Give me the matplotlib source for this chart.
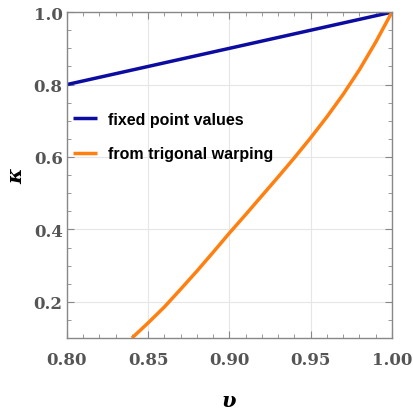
import matplotlib
matplotlib.use("Agg")
import matplotlib.pyplot as plt
from matplotlib.ticker import MultipleLocator

# data
v_fixed = [0.80, 1.00]
kappa_fixed = [0.80, 1.00]
v_trig = [0.84, 0.85, 0.86, 0.87, 0.88, 0.89, 0.90, 0.91, 0.92,
          0.93, 0.94, 0.95, 0.96, 0.97, 0.98, 0.99, 1.00]
kappa_trig = [0.10, 0.142, 0.186, 0.235, 0.285, 0.337, 0.39, 0.441, 0.493,
              0.545, 0.598, 0.653, 0.711, 0.773, 0.841, 0.917, 1.00]
xticks = [0.80, 0.85, 0.90, 0.95, 1.00]
yticks = [0.2, 0.4, 0.6, 0.8, 1.0]

fig = plt.figure(figsize=(4.13, 4.10), dpi=100)
ax = fig.add_axes([0.162, 0.173, 0.787, 0.795])

ax.plot(v_fixed, kappa_fixed, color="#0c0ca0", lw=2.5, label="fixed point values", solid_capstyle="butt")
ax.plot(v_trig, kappa_trig, color="#ff8010", lw=2.5, label="from trigonal warping", solid_capstyle="butt")

ax.set_xlim(0.80, 1.00)
ax.set_ylim(0.10, 1.00)
ax.set_xticks(xticks)
ax.set_yticks(yticks)
ax.set_xticklabels([f"{t:.2f}" for t in xticks])
ax.set_yticklabels([f"{t:.1f}" for t in yticks])
ax.xaxis.set_minor_locator(MultipleLocator(0.01))
ax.yaxis.set_minor_locator(MultipleLocator(0.05))
ax.tick_params(which="both", direction="in", top=True, right=True, color="#888888")
ax.tick_params(which="major", length=5, width=0.8, labelsize=12, labelcolor="#555555")
ax.tick_params(axis="x", which="major", pad=9)
ax.tick_params(axis="y", which="major", pad=3)
ax.tick_params(which="minor", length=3, width=0.6)
for lab in ax.get_xticklabels() + ax.get_yticklabels():
    lab.set_family("DejaVu Serif")
    lab.set_fontweight("bold")
ax.grid(True, which="major", color="#e6e6e6", lw=0.8)
ax.set_axisbelow(True)
for s in ax.spines.values():
    s.set_color("#888888")
    s.set_linewidth(1.0)

ax.set_xlabel("υ", fontsize=15, fontweight="bold", style="italic", family="DejaVu Serif", labelpad=16)
ax.set_ylabel("κ", fontsize=15, fontweight="bold", style="italic", family="DejaVu Serif", labelpad=5, rotation=90)

leg = ax.legend(loc="center left", bbox_to_anchor=(0.018, 0.618), frameon=False,
                prop={"family": "Liberation Sans", "weight": "bold", "size": 11.5},
                handlelength=1.5, handletextpad=0.7, labelspacing=1.2,
                borderpad=0, borderaxespad=0)

fig.savefig("out.png", dpi=100)
